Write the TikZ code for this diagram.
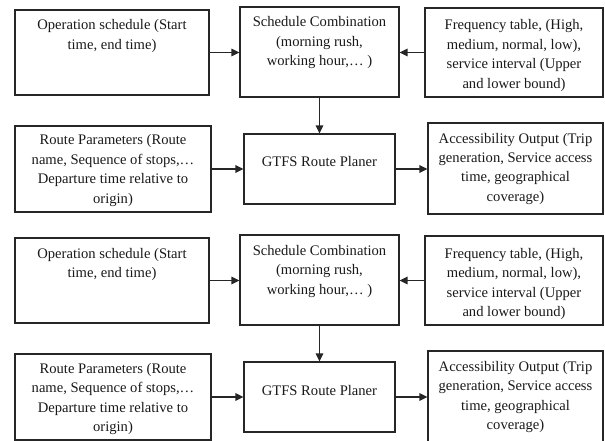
\documentclass[tikz,border=0pt]{standalone}
\usepackage{fontspec}
\setmainfont{Liberation Serif}
\usetikzlibrary{arrows.meta}
\newcommand{\bxt}[4]{\parbox[c][#2pt][t]{#1pt}{\centering\rule{0pt}{#3pt}#4}}
\tikzset{
  box/.style={draw=black!85, line width=1.2pt, inner sep=0pt, font=\fontsize{14.6pt}{19.5pt}\selectfont, text=black!90},
  arr/.style={draw=black!85, line width=1.4pt, -{Triangle[length=8pt,width=7.5pt]}}
}
\begin{document}
\begin{tikzpicture}[x=1pt,y=-1pt]
\useasboundingbox (0,0) rectangle (605,441);
\foreach \i/\dy in {1/0,2/228}{
\begin{scope}[shift={(0,\dy)}]
\node[box] (A\i) at (112,52.5) {\bxt{194}{85}{20}{Operation schedule (Start\\ time, end time)}};
\node[box] (B\i) at (319.5,52) {\bxt{159}{90}{20}{Schedule Combination\\ (morning rush,\\ working hour,\dots\ )}};
\node[box] (C\i) at (514,52.5) {\bxt{178}{89}{22}{Frequency table, (High,\\ medium, normal, low),\\ service interval (Upper\\ and lower bound)}};
\node[box] (D\i) at (113,169) {\bxt{196}{86}{19}{Route Parameters (Route\\ name, Sequence of stops,\dots\\ Departure time relative to\\ origin)}};
\node[box] (E\i) at (319.5,169) {\bxt{151}{70}{33}{GTFS Route Planer}};
\node[box] (F\i) at (515.5,168.5) {\bxt{175}{91}{20}{Accessibility Output (Trip\\ generation, Service access\\ time, geographical\\ coverage)}};
\end{scope}
\draw[arr] (A\i.east) -- (A\i.east -| B\i.west);
\draw[arr] (C\i.west) -- (C\i.west -| B\i.east);
\draw[arr] (B\i.south) -- (E\i.north);
\draw[arr] (D\i.east) -- (D\i.east -| E\i.west);
\draw[arr] (E\i.east) -- (E\i.east -| F\i.west);
}
\end{tikzpicture}
\end{document}
